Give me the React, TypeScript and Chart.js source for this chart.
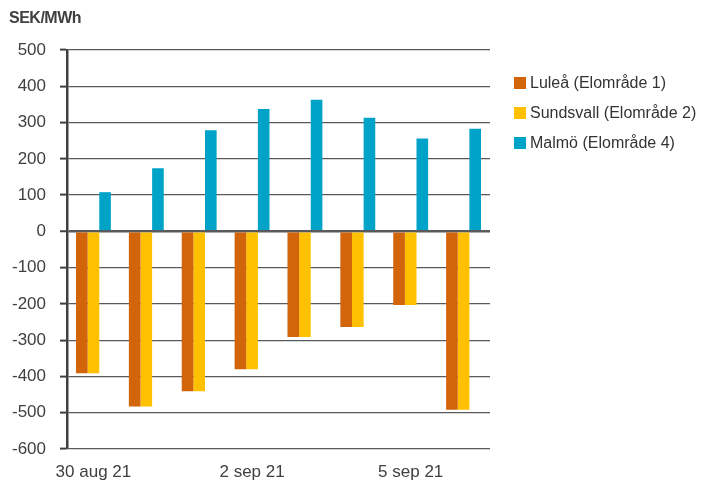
import React, { useEffect, useRef } from "react";
import { Chart, registerables } from "chart.js";

Chart.register(...registerables);

const categories = ["30 aug 21", "31 aug 21", "1 sep 21", "2 sep 21", "3 sep 21", "4 sep 21", "5 sep 21", "6 sep 21"];
const shownLabels = ["30 aug 21", "2 sep 21", "5 sep 21"];
const lulea = [-391, -483, -441, -380, -291, -264, -203, -492];
const sundsvall = [-391, -483, -441, -380, -291, -264, -203, -492];
const malmo = [108, 174, 279, 337, 363, 313, 256, 283];
const seriesNames = ["Luleå (Elområde 1)", "Sundsvall (Elområde 2)", "Malmö (Elområde 4)"];
const seriesColors = ["#D2640A", "#FFC000", "#00A3C8"];
const yTicks = [500, 400, 300, 200, 100, 0, -100, -200, -300, -400, -500, -600];

const FONT = "'Liberation Sans', Arial, sans-serif";

export default function App() {
  const ref = useRef<HTMLCanvasElement | null>(null);

  useEffect(() => {
    if (!ref.current) return;
    const chart = new Chart(ref.current, {
      type: "bar",
      data: {
        labels: categories,
        datasets: [lulea, sundsvall, malmo].map((d, i) => ({
          label: seriesNames[i],
          data: d,
          backgroundColor: seriesColors[i],
          borderWidth: 0,
          categoryPercentage: 0.66,
          barPercentage: 1,
        })),
      },
      options: {
        animation: false,
        responsive: false,
        maintainAspectRatio: false,
        layout: { padding: { left: 0, right: 220, top: 50, bottom: 0 } },
        plugins: { legend: { display: false }, tooltip: { enabled: false }, title: { display: false } },
        scales: {
          x: {
            grid: { display: false, drawTicks: false },
            border: { display: false },
            ticks: {
              autoSkip: false,
              maxRotation: 0,
              minRotation: 0,
              padding: 13,
              color: "#404040",
              font: { family: FONT, size: 17 },
              callback: (_v: any, i: number) => (shownLabels.includes(categories[i]) ? categories[i] : ""),
            },
            afterFit: (s: any) => {
              s.height = 37;
            },
          },
          y: {
            min: -600,
            max: 500,
            afterBuildTicks: (s: any) => {
              s.ticks = yTicks.map((v) => ({ value: v }));
            },
            grid: {
              color: "#5a5a5a",
              lineWidth: (c: any) => (c.tick && c.tick.value === 0 ? 2.5 : 1.2),
              tickLength: 7,
              tickColor: "#404040",
              tickWidth: 2,
            },
            border: { display: true, color: "#404040", width: 2.5 },
            ticks: {
              color: "#404040",
              padding: 14,
              font: { family: FONT, size: 17 },
            },
            afterFit: (s: any) => {
              s.width = 67;
            },
          },
        },
      },
    });
    return () => chart.destroy();
  }, []);

  return (
    <div style={{ position: "absolute", left: 0, top: 0, width: 710, height: 486, background: "#fff", fontFamily: FONT }}>
      <canvas ref={ref} width={710} height={486} style={{ position: "absolute", left: 0, top: 0 }} />
      <div style={{ position: "absolute", left: 9, top: 9, fontWeight: "bold", fontSize: 16, color: "#404040", letterSpacing: -0.5 }}>SEK/MWh</div>
      <div style={{ position: "absolute", left: 514, top: 68 }}>
        {seriesNames.map((n, i) => (
          <div key={n} style={{ display: "flex", alignItems: "center", height: 30, fontSize: 16, color: "#333" }}>
            <span style={{ display: "inline-block", width: 12, height: 12, background: seriesColors[i], marginRight: 4 }} />
            <span>{n}</span>
          </div>
        ))}
      </div>
    </div>
  );
}
